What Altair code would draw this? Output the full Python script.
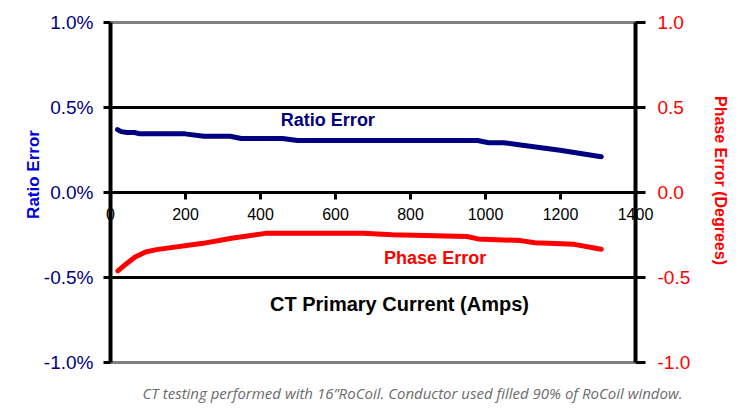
import altair as alt
import pandas as pd

# Ratio error (percent) vs primary current (amps)
ratio_amps = [20, 30, 45, 65, 80, 200, 250, 320, 350, 460, 500, 980, 1010, 1050, 1100, 1200, 1310]
ratio_pct = [0.367, 0.355, 0.350, 0.350, 0.342, 0.342, 0.328, 0.328, 0.315, 0.315, 0.303, 0.303,
             0.290, 0.290, 0.275, 0.245, 0.207]

# Phase error (degrees) vs primary current (amps)
phase_amps = [21, 43, 67, 95, 124, 248, 324, 419, 676, 752, 952, 981, 1095, 1133, 1238, 1310]
phase_deg = [-0.464, -0.423, -0.383, -0.353, -0.339, -0.302, -0.272, -0.242, -0.242, -0.252,
             -0.262, -0.276, -0.286, -0.298, -0.308, -0.337]

x_ticks = [0, 200, 400, 600, 800, 1000, 1200, 1400]
left_ticks = [-0.01, -0.005, 0.0, 0.005, 0.01]
right_ticks = [-1.0, -0.5, 0.0, 0.5, 1.0]

ratio_df = pd.DataFrame({"amps": ratio_amps, "ratio": [v / 100 for v in ratio_pct]})
phase_df = pd.DataFrame({"amps": phase_amps, "phase": phase_deg})
one_row = pd.DataFrame({"k": [0]})

FONT = "Liberation Sans"
NAVY = "#000080"
RED = "#ff0000"

x_enc = alt.X(
    "amps:Q",
    scale=alt.Scale(domain=[0, 1400], nice=False),
    axis=alt.Axis(
        values=x_ticks, offset=-170, grid=False, format="d",
        domainColor="black", domainWidth=3,
        tickColor="black", tickWidth=3, tickSize=7,
        labelFont=FONT, labelFontSize=16, labelColor="black", labelPadding=7,
        labelFlush=False, labelOverlap=False,
        title="CT Primary Current (Amps)", titleFont=FONT, titleFontSize=20,
        titleFontWeight="bold", titleColor="black",
        titleX=289, titleY=112, titleAlign="center", titleBaseline="middle",
    ),
)

left_axis = alt.Axis(
    orient="left", values=left_ticks,
    labelExpr="(datum.value < 0 ? '-' : '') + format(abs(datum.value) * 100, '.1f') + '%'",
    grid=True,
    gridColor=alt.condition("abs(datum.value) > 0.009", alt.value("#808080"), alt.value("black")),
    gridWidth=3,
    domainColor="black", domainWidth=4,
    tickColor="black", tickWidth=3, tickSize=7,
    labelFont=FONT, labelFontSize=19, labelColor=NAVY, labelPadding=10,
    title="Ratio Error", titleFont=FONT, titleFontSize=17, titleFontWeight="bold",
    titleColor="#0000e0", titlePadding=1, titleY=152,
)

right_axis = alt.Axis(
    orient="right", values=right_ticks,
    labelExpr="(datum.value < 0 ? '-' : '') + format(abs(datum.value), '.1f')",
    grid=False,
    domainColor="black", domainWidth=4,
    tickColor="black", tickWidth=3, tickSize=10,
    labelFont=FONT, labelFontSize=19, labelColor=RED, labelPadding=12,
    title="Phase Error (Degrees)", titleFont=FONT, titleFontSize=16, titleFontWeight="bold",
    titleColor=RED, titlePadding=22, titleY=158,
)

ratio_line = alt.Chart(ratio_df).mark_line(
    color=NAVY, strokeWidth=5, strokeCap="round", strokeJoin="round"
).encode(
    x=x_enc,
    y=alt.Y("ratio:Q", scale=alt.Scale(domain=[-0.01, 0.01], nice=False), axis=left_axis),
)
ratio_label = alt.Chart(one_row).mark_text(
    text="Ratio Error", font=FONT, fontSize=18, fontWeight="bold", color=NAVY
).encode(x=alt.datum(581), y=alt.datum(0.00418))

phase_line = alt.Chart(phase_df).mark_line(
    color=RED, strokeWidth=5, strokeCap="round", strokeJoin="round"
).encode(
    x=alt.X("amps:Q", scale=alt.Scale(domain=[0, 1400], nice=False)),
    y=alt.Y("phase:Q", scale=alt.Scale(domain=[-1, 1], nice=False), axis=right_axis),
)
phase_label = alt.Chart(one_row).mark_text(
    text="Phase Error", font=FONT, fontSize=18, fontWeight="bold", color=RED
).encode(x=alt.datum(867), y=alt.datum(-0.394))

left = alt.layer(ratio_line, ratio_label)
right = alt.layer(phase_line, phase_label)

chart = alt.layer(left, right).resolve_scale(y="independent").properties(
    width=525, height=340,
    autosize=alt.AutoSizeParams(type="none"),
    padding={"left": 102, "top": 14, "right": 109, "bottom": 42},
    title=alt.Title(
        text="CT testing performed with 16\u201dRoCoil. Conductor used filled 90% of RoCoil window.",
        orient="bottom", anchor="middle", frame="group", dx=40, offset=15,
        font="Open Sans", fontSize=15, fontStyle="italic", fontWeight="normal", color="#6b6b6b",
    ),
).configure_view(stroke=None).configure(background="white")

chart.save("out.html", embed_options={"renderer": "svg", "actions": False})
